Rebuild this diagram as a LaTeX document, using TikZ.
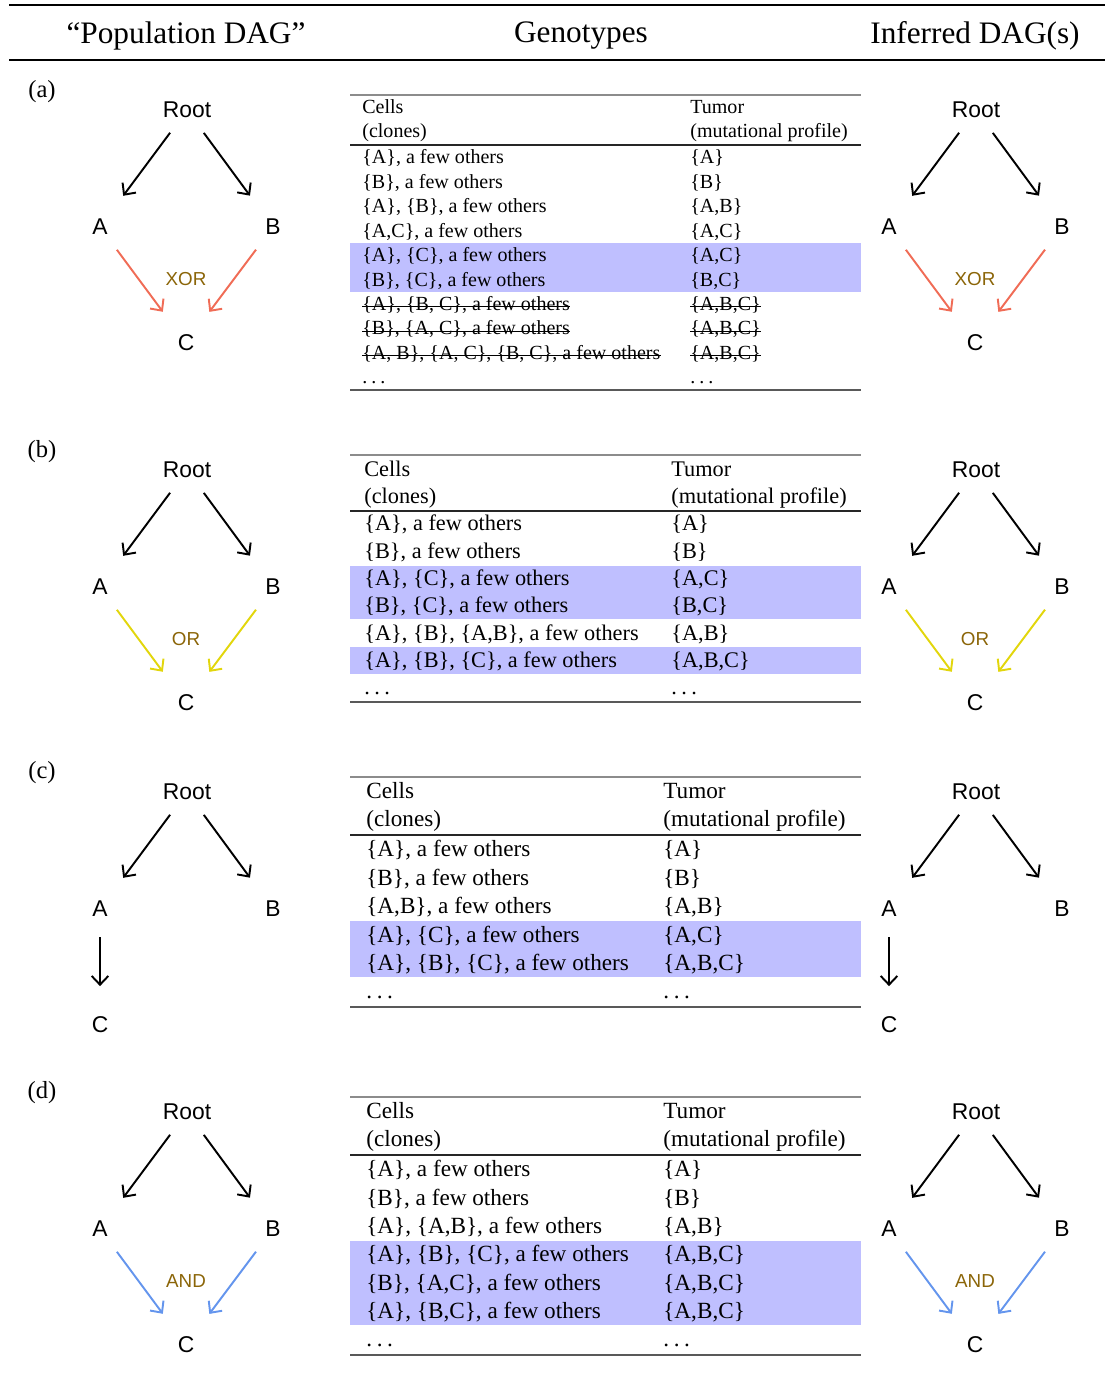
\documentclass[tikz,border=0pt]{standalone}
\usepackage{fontspec}
\setmainfont{Liberation Serif}
\setsansfont{Liberation Sans}
\usetikzlibrary{arrows.meta, positioning}

\definecolor{xorc}{RGB}{240,108,86}
\definecolor{orc}{RGB}{226,214,12}
\definecolor{andc}{RGB}{100,149,237}
\definecolor{opbrown}{RGB}{139,101,8}
\definecolor{hlrow}{RGB}{191,191,255}

\newcommand\etcdots{.\kern0.2em.\kern0.2em.}

\begin{document}
\begin{tikzpicture}[
      x=0.02cm, y=-0.02cm,
      dnode/.style = {
          circle,
          inner sep=0pt,
          minimum size=1.12cm,
          font=\sffamily\fontsize{13}{13}\selectfont,
        },
      dedge/.style = {
          -{Straight Barb[length=5pt, width=9.5pt]},
          line width=1.1pt,
          shorten >=6pt,
        },
      oplbl/.style = {
          inner sep=0pt,
          text=opbrown,
          font=\sffamily\fontsize{10.7}{10.7}\selectfont,
        },
      cell/.style = {
          anchor=mid west,
          inner sep=0pt,
          yshift=-1.6pt,
          font=\fontsize{#1}{#1}\selectfont,
        },
      strike/.style = {line width=0.5pt},
      head/.style = {
          inner sep=0pt,
          yshift=-2pt,
          font=\fontsize{17.8}{20}\selectfont,
        },
      tag/.style = {
          inner sep=0pt,
          yshift=-0.8pt,
          font=\fontsize{14}{14}\selectfont,
        },
      toprule/.style = {draw=black!45, line width=0.7pt},
      midrule/.style = {draw=black!85, line width=0.6pt},
      botrule/.style = {draw=black!65, line width=1.1pt},
    ]

    \useasboundingbox (0,0) rectangle (1105,1376);

    % header of the figure
    \draw[line width=1.6pt] (9,5) -- (1105,5);
    \draw[line width=1.1pt] (9,60) -- (1105,60);
    \node[head] (hpop) at (186,32) {``Population DAG''};
    \node[head] (hgen) at (581,32) {Genotypes};
    \node[head] (hinf) at (975,32) {Inferred DAG(s)};

    % panel tags
    \foreach \p/\y in {a/90, b/450, c/771, d/1091}
      \node[tag] (tag\p) at (42,\y) {(\p)};

    % the DAGs, left = population, right = inferred
    \foreach \p/\dy/\cx/\col in {a/0/186/xorc, b/360/186/orc, c/682/100/black, d/1002/186/andc} {
      \foreach \s/\dx in {L/0, R/789} {
        \node[dnode] (\p\s root) at (187+\dx,110+\dy) {Root};
        \node[dnode] (\p\s A) at (100+\dx,227+\dy) {A};
        \node[dnode] (\p\s B) at (273+\dx,227+\dy) {B};
        \node[dnode] (\p\s C) at (\cx+\dx,343+\dy) {C};
        \draw[dedge] (\p\s root) -- (\p\s A);
        \draw[dedge] (\p\s root) -- (\p\s B);
        \draw[dedge, \col] (\p\s A) -- (\p\s C);
      }
    }
    \foreach \p/\dy/\op/\col in {a/0/XOR/xorc, b/360/OR/orc, d/1002/AND/andc} {
      \foreach \s/\dx in {L/0, R/789} {
        \draw[dedge, \col] (\p\s B) -- (\p\s C);
        \node[oplbl] (\p\s op) at (186+\dx,279+\dy) {\op};
      }
    }

    % (a) genotypes
    \fill[hlrow] (350,243) rectangle (861,292);
    \draw[toprule] (350,95) -- (861,95);
    \draw[midrule] (350,145) -- (861,145);
    \draw[botrule] (350,390) -- (861,390);
    \node[cell=11.4] (aHl1) at (362,107) {Cells};
    \node[cell=11.4] (aHl2) at (362,131) {(clones)};
    \node[cell=11.4] (aHr1) at (690,107) {Tumor};
    \node[cell=11.4] (aHr2) at (690,131) {(mutational profile)};
    \foreach \l/\r [count=\n] in {
        {\{A\}, a few others}/{\{A\}},
        {\{B\}, a few others}/{\{B\}},
        {\{A\}, \{B\}, a few others}/{\{A,B\}},
        {\{A,C\}, a few others}/{\{A,C\}},
        {\{A\}, \{C\}, a few others}/{\{A,C\}},
        {\{B\}, \{C\}, a few others}/{\{B,C\}},
        {\{A\}, \{B, C\}, a few others}/{\{A,B,C\}},
        {\{B\}, \{A, C\}, a few others}/{\{A,B,C\}},
        {\{A, B\}, \{A, C\}, \{B, C\}, a few others}/{\{A,B,C\}},
        {\etcdots}/{\etcdots}} {
      \node[cell=11.4] (aL\n) at (362,157+24.45*\n-24.45) {\l};
      \node[cell=11.4] (aR\n) at (690,157+24.45*\n-24.45) {\r};
    }
    % struck out rows
    \foreach \n in {7,8,9} {
      \draw[strike] (aL\n.mid west) -- (aL\n.mid east);
      \draw[strike] (aR\n.mid west) -- (aR\n.mid east);
    }

    % (b) genotypes
    \fill[hlrow] (350,566) rectangle (861,619);
    \fill[hlrow] (350,647) rectangle (861,674);
    \draw[toprule] (350,455) -- (861,455);
    \draw[midrule] (350,511) -- (861,511);
    \draw[botrule] (350,702) -- (861,702);
    \node[cell=12.7] (bHl1) at (364,470) {Cells};
    \node[cell=12.7] (bHl2) at (364,497) {(clones)};
    \node[cell=12.7] (bHr1) at (671,470) {Tumor};
    \node[cell=12.7] (bHr2) at (671,497) {(mutational profile)};
    \foreach \l/\r [count=\n] in {
        {\{A\}, a few others}/{\{A\}},
        {\{B\}, a few others}/{\{B\}},
        {\{A\}, \{C\}, a few others}/{\{A,C\}},
        {\{B\}, \{C\}, a few others}/{\{B,C\}},
        {\{A\}, \{B\}, \{A,B\}, a few others}/{\{A,B\}},
        {\{A\}, \{B\}, \{C\}, a few others}/{\{A,B,C\}},
        {\etcdots}/{\etcdots}} {
      \node[cell=12.7] (bL\n) at (364,524+27.3*\n-27.3) {\l};
      \node[cell=12.7] (bR\n) at (671,524+27.3*\n-27.3) {\r};
    }

    % (c) genotypes
    \fill[hlrow] (350,921) rectangle (861,977);
    \draw[toprule] (350,777) -- (861,777);
    \draw[midrule] (350,835) -- (861,835);
    \draw[botrule] (350,1007) -- (861,1007);
    \node[cell=13.2] (cHl1) at (366,792) {Cells};
    \node[cell=13.2] (cHl2) at (366,820) {(clones)};
    \node[cell=13.2] (cHr1) at (663,792) {Tumor};
    \node[cell=13.2] (cHr2) at (663,820) {(mutational profile)};
    \foreach \l/\r [count=\n] in {
        {\{A\}, a few others}/{\{A\}},
        {\{B\}, a few others}/{\{B\}},
        {\{A,B\}, a few others}/{\{A,B\}},
        {\{A\}, \{C\}, a few others}/{\{A,C\}},
        {\{A\}, \{B\}, \{C\}, a few others}/{\{A,B,C\}},
        {\etcdots}/{\etcdots}} {
      \node[cell=13.2] (cL\n) at (366,850+28.4*\n-28.4) {\l};
      \node[cell=13.2] (cR\n) at (663,850+28.4*\n-28.4) {\r};
    }

    % (d) genotypes
    \fill[hlrow] (350,1241) rectangle (861,1325);
    \draw[toprule] (350,1097) -- (861,1097);
    \draw[midrule] (350,1155) -- (861,1155);
    \draw[botrule] (350,1355) -- (861,1355);
    \node[cell=13.2] (dHl1) at (366,1112) {Cells};
    \node[cell=13.2] (dHl2) at (366,1140) {(clones)};
    \node[cell=13.2] (dHr1) at (663,1112) {Tumor};
    \node[cell=13.2] (dHr2) at (663,1140) {(mutational profile)};
    \foreach \l/\r [count=\n] in {
        {\{A\}, a few others}/{\{A\}},
        {\{B\}, a few others}/{\{B\}},
        {\{A\}, \{A,B\}, a few others}/{\{A,B\}},
        {\{A\}, \{B\}, \{C\}, a few others}/{\{A,B,C\}},
        {\{B\}, \{A,C\}, a few others}/{\{A,B,C\}},
        {\{A\}, \{B,C\}, a few others}/{\{A,B,C\}},
        {\etcdots}/{\etcdots}} {
      \node[cell=13.2] (dL\n) at (366,1170+28.3*\n-28.3) {\l};
      \node[cell=13.2] (dR\n) at (663,1170+28.3*\n-28.3) {\r};
    }

  \end{tikzpicture}
\end{document}
